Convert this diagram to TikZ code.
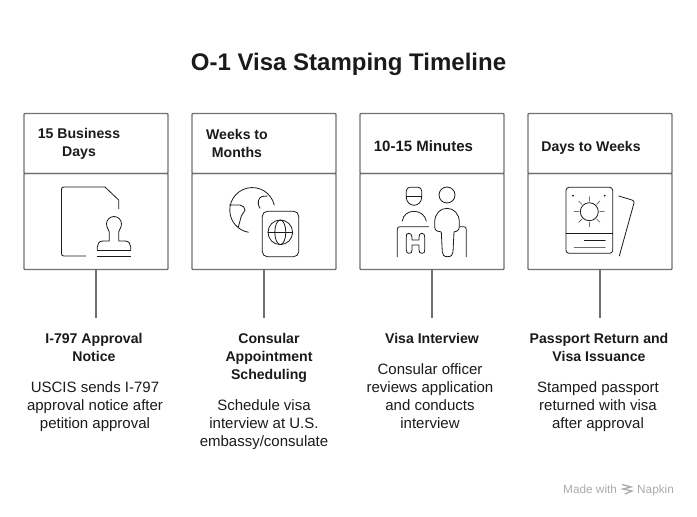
\documentclass[tikz,border=0pt]{standalone}
\usepackage{fontspec}
\setmainfont{Liberation Sans}
\usetikzlibrary{positioning}
\definecolor{framegray}{HTML}{707070}
\definecolor{inkblack}{HTML}{1A1A1A}
\definecolor{marksgray}{HTML}{ABABAB}
\tikzset{
  headbox/.style={draw=framegray, line width=1.4pt, minimum width=144pt, minimum height=60pt, inner sep=0pt, outer sep=0pt, rounded corners=0.8pt},
  iconbox/.style={draw=framegray, line width=1.4pt, minimum width=144pt, minimum height=96pt, inner sep=0pt, outer sep=0pt, rounded corners=0.8pt},
  stem/.style={draw=framegray, line width=1.4pt},
  icon/.style={draw=inkblack, line width=0.8pt, line cap=round, line join=round},
  spanlabel/.style={font=\fontsize{14.1}{18}\selectfont\bfseries, text=inkblack, align=center, inner sep=0pt},
  steptitle/.style={font=\fontsize{14.1}{18}\selectfont\bfseries, text=inkblack, align=center, inner sep=0pt, anchor=north},
  stepnote/.style={font=\fontsize{15}{18}\selectfont, text=inkblack, align=center, inner sep=0pt, anchor=north},
  markstext/.style={font=\fontsize{11.8}{12}\selectfont, text=marksgray, anchor=base west, inner sep=0pt},
}
\begin{document}
\begin{tikzpicture}[x=1pt, y=-1pt]
\useasboundingbox (0,0) rectangle (697,517);
\node[font=\fontsize{24}{28}\selectfont\bfseries, text=inkblack] (title) at (348.5,64) {O-1 Visa Stamping Timeline};
% first column
\node[headbox] (head1) at (96,143.5) {};
\node[iconbox, below=0pt of head1] (body1) {};
\coordinate (stemend1) at (96,318);
\draw[stem] (body1.south) -- (stemend1);
\node[spanlabel] (span1) at (79,144) {15 Business\\Days};
\node[steptitle] (step1) at (94,333) {I-797 Approval\\Notice};
\node[stepnote] (note1) at (95,381) {USCIS sends I-797\\approval notice after\\petition approval};
% second column
\node[headbox] (head2) at (264,143.5) {};
\node[iconbox, below=0pt of head2] (body2) {};
\coordinate (stemend2) at (264,318);
\draw[stem] (body2.south) -- (stemend2);
\node[spanlabel] (span2) at (237,143.5) {Weeks to\\Months};
\node[steptitle] (step2) at (269,333) {Consular\\Appointment\\Scheduling};
\node[stepnote] (note2) at (264,399) {Schedule visa\\interview at U.S.\\embassy/consulate};
% third column
\node[headbox] (head3) at (432,143.5) {};
\node[iconbox, below=0pt of head3] (body3) {};
\coordinate (stemend3) at (432,318);
\draw[stem] (body3.south) -- (stemend3);
\node[spanlabel, font=\fontsize{15}{18}\selectfont\bfseries] (span3) at (423.5,146.5) {10-15 Minutes};
\node[steptitle] (step3) at (432,333) {Visa Interview};
\node[stepnote] (note3) at (430,363) {Consular officer\\reviews application\\and conducts\\interview};
% fourth column
\node[headbox] (head4) at (600,143.5) {};
\node[iconbox, below=0pt of head4] (body4) {};
\coordinate (stemend4) at (600,318);
\draw[stem] (body4.south) -- (stemend4);
\node[spanlabel] (span4) at (591,148) {Days to Weeks};
\node[steptitle] (step4) at (599,333) {Passport Return and\\Visa Issuance};
\node[stepnote] (note4) at (598,381) {Stamped passport\\returned with visa\\after approval};
% document and stamp
\draw[icon] (85.7,256) -- (64,256) .. controls (62.3,256) and (61.5,255.2) .. (61.5,253.5) -- (61.5,189.5) .. controls (61.5,187.8) and (62.3,187) .. (64,187) -- (105,187) -- (118.7,200) -- (118.7,208.7);
\draw[icon] (109.3,241) -- (109.3,232) .. controls (109.3,230) and (106.5,228) .. (106.5,224) arc[start angle=180, end angle=360, radius=7.5] .. controls (121.5,228) and (118.7,230) .. (118.7,232) -- (118.7,241) -- (125,241) .. controls (129,241) and (130.7,244) .. (130.7,247) -- (130.7,250.5) -- (97.3,250.5) -- (97.3,247) .. controls (97.3,244) and (99,241) .. (103,241) -- cycle;
\draw[icon] (97.3,256) -- (130.7,256);
% globe and passport
\draw[icon] (274.2,205) arc[start angle=-13, end angle=-260, radius=22.5];
\draw[icon] (229.5,205) -- (240,205) .. controls (243,205) and (245,208) .. (245,210) .. controls (245,213) and (241.7,213) .. (241.3,216) -- (238.3,227.3);
\draw[icon] (267.3,196) -- (262,196.5) .. controls (258.5,197) and (256.5,204) .. (260,208.3);
\draw[icon, rounded corners=5pt] (262.3,211.3) rectangle (298.7,256.7);
\draw[icon] (280.3,232.3) circle[radius=12.3];
\draw[icon] (268,232.3) -- (292.6,232.3);
\draw[icon] (280.3,232.3) ellipse[x radius=5.5, y radius=12.3];
% officer and applicant
\draw[icon] (406.3,196) -- (406.3,191) .. controls (406.3,188.5) and (408,187.3) .. (410,187.3) -- (418,187.3) .. controls (420,187.3) and (421.7,188.5) .. (421.7,191) -- (421.7,197) .. controls (421.7,202) and (418,205.3) .. (414,205.3) .. controls (410,205.3) and (406.3,202) .. (406.3,197) -- cycle;
\draw[icon] (406.3,196) -- (421.7,196);
\draw[icon] (402.3,221) .. controls (403,215) and (408,211.3) .. (414,211.3) .. controls (420,211.3) and (425,215) .. (426.3,221);
\draw[icon] (397.3,256.7) -- (397.3,229.5) .. controls (397.3,227.5) and (398.3,226.7) .. (400,226.7) -- (428.7,226.7);
\draw[icon] (408.5,233.3) .. controls (406.5,233.3) and (406.3,235) .. (406.3,237) -- (406.3,250) .. controls (406.3,252.5) and (407.5,253.3) .. (409,253.3) .. controls (411,253.3) and (412,252.5) .. (412,250) -- (412,245) -- (419,245) -- (419,250) .. controls (419,252.5) and (420,253.3) .. (422,253.3) .. controls (424,253.3) and (424.7,252.5) .. (424.7,250) -- (424.7,237) .. controls (424.7,235) and (424,233.3) .. (422,233.3) .. controls (420,233.3) and (419,234.5) .. (419,237) -- (419,240) -- (412,240) -- (412,237) .. controls (412,234.5) and (410.5,233.3) .. (408.5,233.3) -- cycle;
\draw[icon] (447,195) circle[radius=8];
\draw[icon] (441.3,232) -- (437,231) .. controls (435.5,230.5) and (434.7,229) .. (434.7,227) -- (434.7,222) .. controls (434.7,214) and (440,208.3) .. (447,208.3) .. controls (454,208.3) and (459.3,214) .. (459.3,222) -- (459.3,227) .. controls (459.3,229) and (458.5,230.5) .. (457,231) -- (454,232) -- (453,252) .. controls (453,255) and (451,256.7) .. (447.5,256.7) .. controls (444,256.7) and (442.5,255) .. (442.3,252) -- cycle;
\draw[icon] (459.7,226.7) -- (463.5,226.7) .. controls (465.5,226.7) and (466.3,227.5) .. (466.3,229.5) -- (466.3,256.7);
% passport with sun
\draw[icon, rounded corners=3pt] (566,187.3) rectangle (612.7,253.3);
\draw[icon] (566,233.3) -- (612.7,233.3);
\draw[icon] (584.3,240.3) -- (605.3,240.3);
\draw[icon, draw=framegray] (574.3,247) -- (605.3,247);
\draw[icon] (589.3,211.7) circle[radius=9];
\foreach \a in {0,45,...,315}
  \draw[icon, draw=framegray] (589.3,211.7) ++(\a:10.5) -- ++(\a:4.5);
\fill[inkblack] (573,195.7) circle[radius=1];
\fill[inkblack] (604.7,195.7) circle[radius=1];
\draw[icon] (618.7,196) -- (632,200) .. controls (633.7,200.5) and (634.3,201.5) .. (634,203) -- (619.3,256);
% watermark
\node[markstext] (made) at (563,493) {Made with};
\node[markstext] (napkin) at (637,493) {Napkin};
\draw[draw=marksgray, line width=1.3pt] (622,484.5) -- (631,487) -- (623,489) -- (632,491) -- (625,494);
\end{tikzpicture}
\end{document}
